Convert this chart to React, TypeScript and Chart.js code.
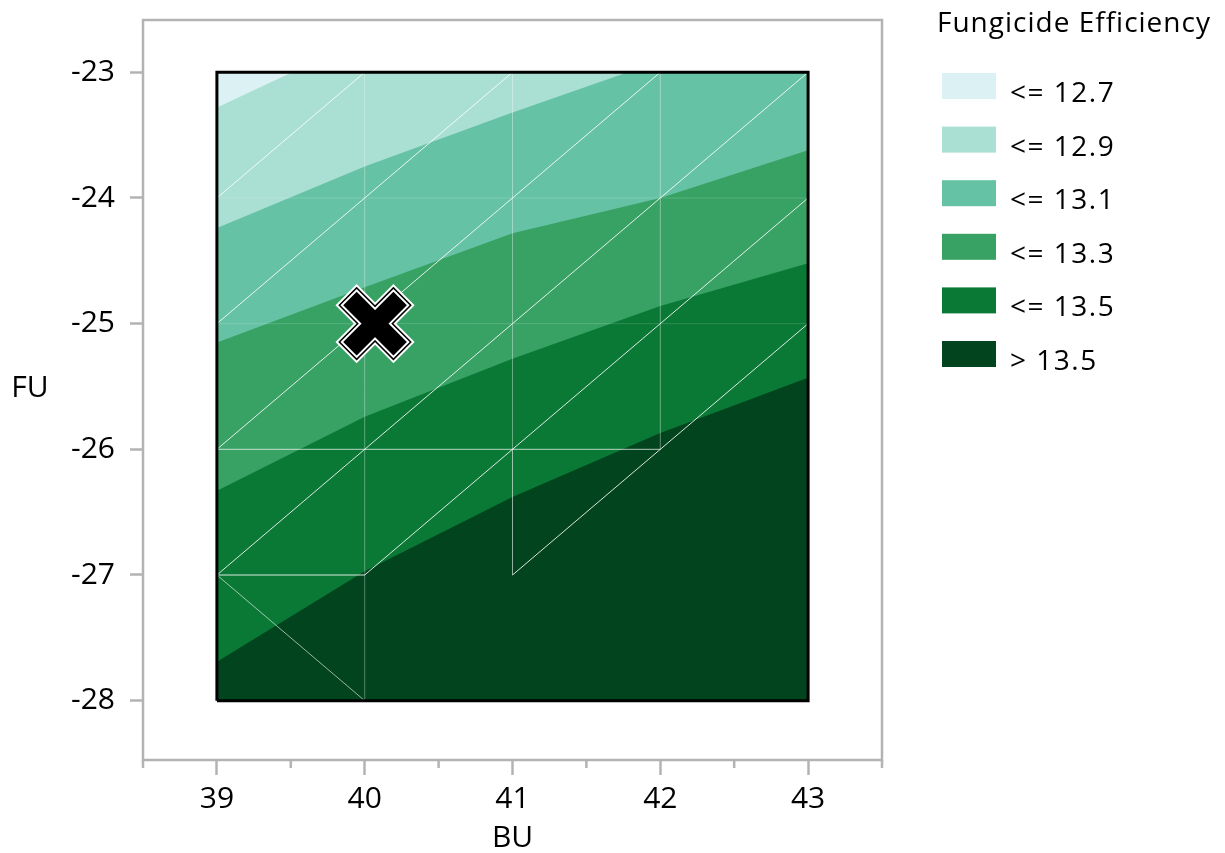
import React, { useEffect, useRef } from 'react';
import { Chart, registerables } from 'chart.js';

Chart.register(...registerables);

const W = 1225;
const H = 853;
const FONT = '"Open Sans", "Noto Sans", sans-serif';
const AXIS_GRAY = '#b3b3b3';

// Axis extents and ticks
const xRange = [38.5, 43.5];
const yRange = [-28.472, -22.584];
const xTicks = [39, 40, 41, 42, 43];
const xMinorTicks = [38.5, 39.5, 40.5, 41.5, 42.5, 43.5];
const yTicks = [-28, -27, -26, -25, -24, -23];

// Extent of the response surface
const buExtent = [39, 43];
const fuExtent = [-28, -23];

// Contour levels
const levelLabels = ['<= 12.7', '<= 12.9', '<= 13.1', '<= 13.3', '<= 13.5', '> 13.5'];
const levelColors = ['#dbf1f4', '#aadfd3', '#66c2a4', '#38a264', '#0a7935', '#01441e'];

// Upper edge of each band (everything below it, down to FU = -28, is at least that level)
const edgeTop = [
  { x: 39, y: -23 },
  { x: 43, y: -23 },
];
const edge127 = [
  { x: 39, y: -23.28 },
  { x: 39.51, y: -23 },
  { x: 43, y: -23 },
];
const edge129 = [
  { x: 39, y: -24.24 },
  { x: 40, y: -23.75 },
  { x: 41, y: -23.32 },
  { x: 41.78, y: -23 },
  { x: 43, y: -23 },
];
const edge131 = [
  { x: 39, y: -25.15 },
  { x: 40, y: -24.71 },
  { x: 41, y: -24.28 },
  { x: 42, y: -24.0 },
  { x: 43, y: -23.62 },
];
const edge133 = [
  { x: 39, y: -26.33 },
  { x: 40, y: -25.74 },
  { x: 41, y: -25.28 },
  { x: 42, y: -24.86 },
  { x: 43, y: -24.52 },
];
const edge135 = [
  { x: 39, y: -27.69 },
  { x: 40, y: -26.97 },
  { x: 41, y: -26.38 },
  { x: 42, y: -25.87 },
  { x: 43, y: -25.43 },
];
const bandEdges = [edgeTop, edge127, edge129, edge131, edge133, edge135];

// Triangulation mesh edges: [x1, y1, x2, y2, opacity]
const meshEdges = [
  [39, -24, 40, -23, 0.85],
  [39, -25, 41, -23, 0.85],
  [39, -26, 42, -23, 0.85],
  [39, -27, 43, -23, 0.85],
  [40, -27, 43, -24, 0.85],
  [41, -27, 43, -25, 0.85],
  [39, -26, 42, -26, 0.7],
  [39, -27, 40, -27, 0.85],
  [39, -27, 40, -28, 0.6],
  [40, -23, 40, -28, 0.13],
  [41, -23, 41, -26, 0.15],
  [41, -26, 41, -27, 0.25],
  [42, -23, 42, -26, 0.15],
  [39, -24, 43, -24, 0.15],
  [39, -25, 43, -25, 0.15],
];

// Selected setting
const optimum = { x: 40.07, y: -25 };

// Marker rings from outside in: [radius, stroke width, colour]
const markerRings: [number, number, string][] = [
  [41, 30, '#ffffff'],
  [39, 26, '#000000'],
  [37.5, 23, '#ffffff'],
  [35.5, 19, '#000000'],
];

const decorPlugin = {
  id: 'decor',
  afterDraw(chart: any) {
    const { ctx, chartArea: a, scales } = chart;
    const x = scales.x;
    ctx.save();
    // plot frame
    ctx.strokeStyle = AXIS_GRAY;
    ctx.lineWidth = 2.5;
    ctx.strokeRect(a.left, a.top, a.right - a.left, a.bottom - a.top);
    // minor ticks on BU
    ctx.beginPath();
    xMinorTicks.forEach((v) => {
      const px = x.getPixelForValue(v);
      ctx.moveTo(px, a.bottom);
      ctx.lineTo(px, a.bottom + 8);
    });
    ctx.stroke();

    // axis titles
    ctx.fillStyle = '#000';
    ctx.font = `30px ${FONT}`;
    ctx.textAlign = 'center';
    ctx.textBaseline = 'alphabetic';
    ctx.fillText('BU', (a.left + a.right) / 2, a.bottom + 87);
    ctx.fillText('FU', 30, (a.top + a.bottom) / 2 + 7);

    // legend
    const lx = 942;
    ctx.textAlign = 'left';
    ctx.font = `28px ${FONT}`;
    (ctx as any).letterSpacing = '1px';
    ctx.fillText('Fungicide Efficiency', lx - 5, 32);
    (ctx as any).letterSpacing = '1.5px';
    levelLabels.forEach((label, i) => {
      const top = 73 + i * 53.6;
      ctx.fillStyle = levelColors[i];
      ctx.fillRect(lx, top, 54, 26);
      ctx.fillStyle = '#000';
      ctx.fillText(label, 1010, top + 29);
    });
    ctx.restore();
  },
};

export default function App() {
  const canvasRef = useRef<HTMLCanvasElement | null>(null);

  useEffect(() => {
    const canvas = canvasRef.current;
    if (!canvas) return;

    const datasets: any[] = [];

    bandEdges.forEach((edge, i) => {
      datasets.push({
        data: edge,
        borderWidth: 0,
        borderColor: 'transparent',
        backgroundColor: levelColors[i],
        fill: { value: fuExtent[0] },
        pointRadius: 0,
        tension: 0,
        order: 100 - i,
      });
    });

    meshEdges.forEach(([x1, y1, x2, y2, a]) => {
      datasets.push({
        data: [
          { x: x1, y: y1 },
          { x: x2, y: y2 },
        ],
        borderWidth: 1,
        borderColor: `rgba(255,255,255,${a})`,
        fill: false,
        pointRadius: 0,
        order: 20,
      });
    });

    datasets.push({
      data: [
        { x: buExtent[0], y: fuExtent[0] },
        { x: buExtent[0], y: fuExtent[1] },
        { x: buExtent[1], y: fuExtent[1] },
        { x: buExtent[1], y: fuExtent[0] },
        { x: buExtent[0], y: fuExtent[0] },
      ],
      borderWidth: 3,
      borderColor: '#000',
      borderJoinStyle: 'miter',
      fill: false,
      pointRadius: 0,
      order: 10,
    });

    markerRings.forEach(([r, w, c], i) => {
      datasets.push({
        data: [optimum],
        showLine: false,
        pointStyle: 'crossRot',
        pointRadius: r,
        pointBorderWidth: w,
        pointBorderColor: c,
        pointBackgroundColor: c,
        order: 5 - i,
      });
    });

    const chart = new Chart(canvas, {
      type: 'line',
      data: { datasets },
      options: {
        responsive: false,
        animation: false,
        events: [],
        layout: { autoPadding: false, padding: { top: 20, right: W - 882, left: 0, bottom: 0 } },
        plugins: { legend: { display: false }, tooltip: { enabled: false } },
        scales: {
          x: {
            type: 'linear',
            min: xRange[0],
            max: xRange[1],
            afterBuildTicks: (s: any) => {
              s.ticks = xTicks.map((v) => ({ value: v }));
            },
            afterFit: (s: any) => {
              s.height = 93;
              s.paddingLeft = 0;
              s.paddingRight = 0;
            },
            grid: {
              display: true,
              drawOnChartArea: false,
              drawTicks: true,
              tickLength: 15,
              tickColor: AXIS_GRAY,
              tickWidth: 2.5,
            },
            border: { display: false },
            ticks: {
              color: '#000',
              font: { family: FONT, size: 30 },
              padding: 6,
              maxRotation: 0,
              autoSkip: false,
              callback: (v: any) => String(v),
            },
          },
          y: {
            type: 'linear',
            min: yRange[0],
            max: yRange[1],
            afterBuildTicks: (s: any) => {
              s.ticks = yTicks.map((v) => ({ value: v }));
            },
            afterFit: (s: any) => {
              s.width = 143;
              s.paddingTop = 0;
              s.paddingBottom = 0;
            },
            grid: {
              display: true,
              drawOnChartArea: false,
              drawTicks: true,
              tickLength: 13,
              tickColor: AXIS_GRAY,
              tickWidth: 2.5,
            },
            border: { display: false },
            ticks: {
              color: '#000',
              font: { family: FONT, size: 30 },
              padding: 15,
              autoSkip: false,
              callback: (v: any) => String(v),
            },
          },
        },
      },
      plugins: [decorPlugin],
    });

    return () => chart.destroy();
  }, []);

  return (
    <div style={{ position: 'fixed', left: 0, top: 0, width: W, height: H, background: '#fff' }}>
      <canvas ref={canvasRef} width={W} height={H} style={{ display: 'block' }} />
    </div>
  );
}
